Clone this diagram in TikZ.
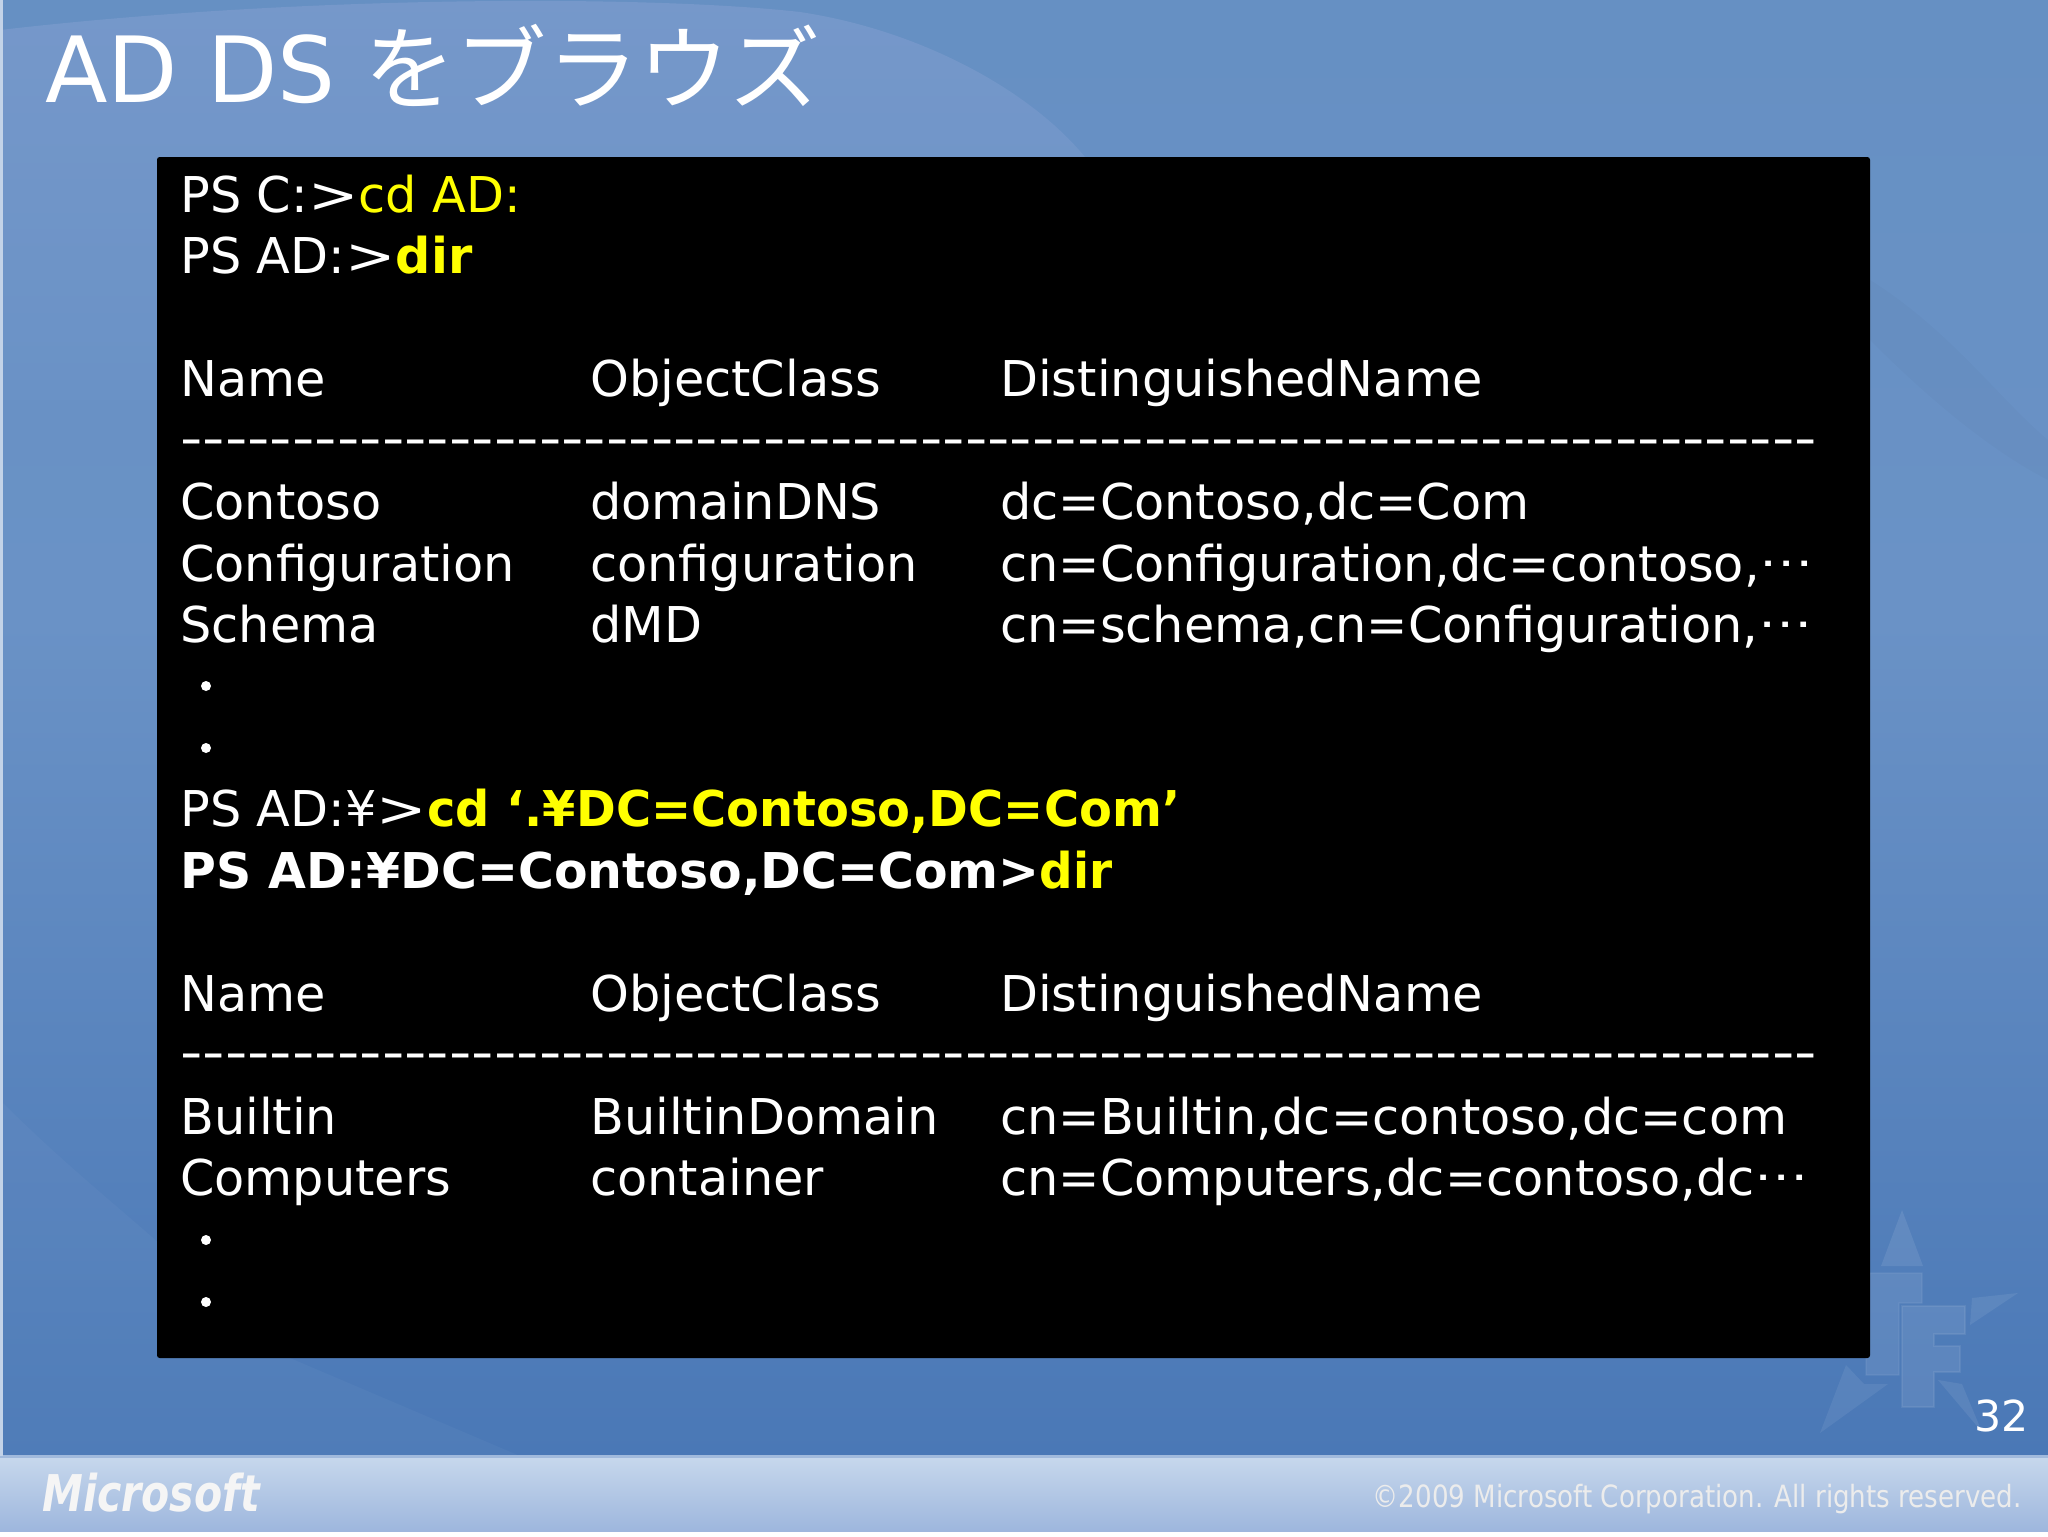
\documentclass[tikz,border=0pt]{standalone}
\usepackage{fontspec}
\setmainfont{DejaVu Sans}
\newfontfamily\cjk{Noto Sans CJK JP}
\newfontfamily\plainf{DejaVu Sans}
\definecolor{bgtop}{HTML}{6690C3}
\definecolor{bgmid}{HTML}{6A92C6}
\definecolor{bglow}{HTML}{4A78B6}
\definecolor{blob}{HTML}{7698CA}
\definecolor{bandtop}{HTML}{C6D7EC}
\definecolor{bandlow}{HTML}{9DB6DD}
\definecolor{hl}{HTML}{FFFF00}
\newcommand{\gtw}{\scalebox{1.22}[1]{>}}
\newcommand{\midell}{\raisebox{.3em}{\scalebox{1.1}[.88]{…}}}
\newcommand{\dashrow}{\plainf\scalebox{1.259}[1]{-------------------------------------------------------------------------}}
\tikzset{px/.style={x=0.75pt,y=-0.75pt},
 term/.style={anchor=base west,inner sep=0,text=white,font=\fontsize{37}{37}\selectfont},
 ttl/.style={anchor=base west,inner sep=0,text=white,font=\fontsize{68.5}{68.5}\selectfont},
 logomark/.style={fill=white,fill opacity=.09,draw=white,draw opacity=.07,line width=1pt}}
\begin{document}
\begin{tikzpicture}[px]
\useasboundingbox (0,0) rectangle (2048,1536);
% background
\shade[top color=bgtop,bottom color=bgmid] (0,0) rectangle (2048,620);
\shade[top color=bgmid,bottom color=bglow] (0,620) rectangle (2048,1456);
\shade[top color=blob,bottom color=bgmid!97!bgtop] (0,30) .. controls (300,-5) and (650,-5) .. (800,12) .. controls (920,30) and (1030,90) .. (1085,157) -- (1085,400) -- (0,400) -- cycle;
\fill[white,opacity=.03] (0,1100) .. controls (60,1160) and (110,1200) .. (160,1244) -- (290,1358) -- (520,1456) -- (0,1456) -- cycle;
\fill[black,opacity=.015] (1870,280) .. controls (1950,330) and (2000,400) .. (2048,440) -- (2048,480) .. controls (1990,450) and (1930,400) .. (1870,340) -- cycle;
% star logo
\fill[white,opacity=.09] (1902,1210) -- (1923,1266) -- (1881,1266) -- cycle;
\fill[white,opacity=.08] (1972,1298) -- (2018,1293) -- (1970,1325) -- cycle;
\fill[white,opacity=.07] (1820,1433) -- (1846,1365) -- (1864,1384) -- (1888,1384) -- cycle;
\fill[white,opacity=.08] (1938,1380) -- (1962,1384) -- (1982,1432) -- cycle;
\path[logomark] (1870,1273) -- (1922,1273) -- (1922,1303) -- (1899,1303) -- (1899,1375) -- (1866,1375) -- (1866,1300) -- cycle;
\path[logomark] (1902,1306) -- (1965,1306) -- (1965,1334) -- (1934,1334) -- (1934,1346) -- (1960,1346) -- (1960,1372) -- (1934,1372) -- (1934,1407) -- (1902,1407) -- cycle;
% footer band
\shade[top color=bandtop,bottom color=bandlow] (0,1458) rectangle (2048,1532);
\fill[white] (0,1532) rectangle (2048,1536);
\fill[bandtop!70!bglow] (0,1455) rectangle (2048,1458);
\fill[white!60!bgmid] (0,0) rectangle (2.5,1456);
% terminal
\fill[black,rounded corners=2pt] (157,157) rectangle (1870,1358);
\node[ttl] (title) at (45,102) {AD DS {\cjk をブラウズ}};
\foreach \n/\y/\t in {a/212/PS C:\gtw{\color{hl}cd AD:},b/273.6/PS AD:\gtw{\color{hl}\bfseries dir},
 c1/396.5/Name,d1/519.5/Contoso,e1/581/Configuration,f1/642.4/Schema,
 g/826.7/PS AD:¥\gtw{\color{hl}\bfseries\scalebox{.971}[1]{cd ‘.¥DC=Contoso,DC=Com’}},
 h/888.2/{\bfseries\scalebox{.992}[1]{PS AD:¥DC=Contoso,DC=Com>}}{\color{hl}\bfseries\scalebox{.95}[1]{dir}},
 c2/1011/Name,i1/1134/Builtin,j1/1195.5/Computers}
  \node[term] (\n) at (180,\y) {\t};
\foreach \n/\y/\t in {c3/396.5/ObjectClass,d3/519.5/domainDNS,e3/581/configuration,f3/642.4/dMD,c4/1011/ObjectClass,i3/1134/BuiltinDomain,j3/1195.5/container}
  \node[term] (\n) at (590,\y) {\t};
\foreach \n/\y/\t in {c5/396.5/DistinguishedName,d5/519.5/{dc=Contoso,dc=Com},e5/581/{cn=Configuration,dc=contoso,\midell},f5/642.4/{cn=schema,cn=Configuration,\midell},c6/1011/DistinguishedName,i5/1134/{cn=Builtin,dc=contoso,dc=com},j5/1195.5/{cn=Computers,dc=contoso,dc\midell}}
  \node[term] (\n) at (1000,\y) {\t};
\foreach \n/\y in {r1/455,r2/1069}
  \node[term] (\n) at (180,\y) {\dashrow};
\foreach \n/\y in {p1/686,p2/748,p3/1240,p4/1302}
  \fill[white] (206,\y) circle (5);
\node[term,font=\fontsize{32}{32}\selectfont] (num) at (1974,1431) {32};
\node[anchor=base west,inner sep=0,text=white!92!gray,font=\bfseries\itshape\fontsize{38}{38}\selectfont] (ms) at (42,1511) {\scalebox{.81}[1]{Microsoft}};
\node[anchor=base east,inner sep=0,text=white!85!gray,font=\fontsize{23}{23}\selectfont] (copy) at (2022,1507) {\scalebox{.852}[1]{©2009 Microsoft Corporation. All rights reserved.}};
\end{tikzpicture}
\end{document}
